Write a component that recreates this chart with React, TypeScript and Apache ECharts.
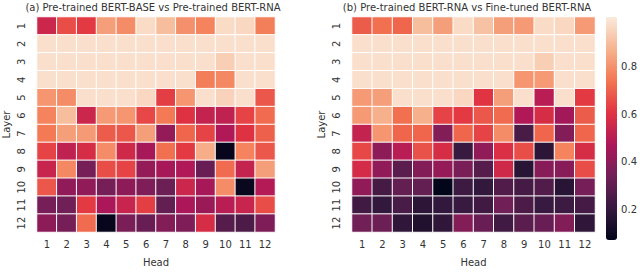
import React, { useEffect, useRef } from "react";
import * as echarts from "echarts";

const heads = ["1", "2", "3", "4", "5", "6", "7", "8", "9", "10", "11", "12"];
const layers = ["1", "2", "3", "4", "5", "6", "7", "8", "9", "10", "11", "12"];

const titleA = "(a) Pre-trained BERT-BASE vs Pre-trained BERT-RNA";
const titleB = "(b) Pre-trained BERT-RNA vs Fine-tuned BERT-RNA";

// rows = layers 1..12, columns = heads 1..12
const simA: number[][] = [
  [0.55, 0.66, 0.62, 0.83, 0.79, 0.97, 0.9, 0.8, 0.77, 0.97, 0.96, 0.76],
  [0.98, 0.98, 0.98, 0.98, 0.98, 0.98, 0.98, 0.98, 0.98, 0.98, 0.98, 0.98],
  [0.98, 0.98, 0.98, 0.98, 0.98, 0.98, 0.98, 0.98, 0.98, 0.94, 0.98, 0.98],
  [0.98, 0.98, 0.98, 0.98, 0.98, 0.98, 0.98, 0.98, 0.76, 0.78, 0.98, 0.98],
  [0.81, 0.79, 0.98, 0.98, 0.98, 0.96, 0.63, 0.81, 0.98, 0.95, 0.98, 0.68],
  [0.77, 0.9, 0.55, 0.82, 0.81, 0.65, 0.75, 0.6, 0.53, 0.52, 0.64, 0.72],
  [0.75, 0.83, 0.82, 0.69, 0.68, 0.83, 0.42, 0.71, 0.64, 0.48, 0.6, 0.7],
  [0.64, 0.52, 0.58, 0.79, 0.56, 0.46, 0.73, 0.62, 0.86, 0.08, 0.77, 0.68],
  [0.54, 0.78, 0.35, 0.66, 0.64, 0.42, 0.46, 0.48, 0.32, 0.72, 0.53, 0.83],
  [0.68, 0.41, 0.41, 0.35, 0.4, 0.37, 0.33, 0.55, 0.46, 0.79, 0.09, 0.49],
  [0.35, 0.34, 0.62, 0.47, 0.54, 0.63, 0.31, 0.47, 0.43, 0.5, 0.54, 0.66],
  [0.4, 0.35, 0.72, 0.08, 0.36, 0.32, 0.38, 0.37, 0.58, 0.28, 0.26, 0.37],
];

const simB: number[][] = [
  [0.69, 0.73, 0.71, 0.9, 0.83, 0.97, 0.91, 0.83, 0.82, 0.97, 0.96, 0.82],
  [0.98, 0.98, 0.98, 0.98, 0.98, 0.98, 0.98, 0.98, 0.98, 0.98, 0.98, 0.98],
  [0.98, 0.98, 0.98, 0.98, 0.98, 0.98, 0.98, 0.98, 0.98, 0.94, 0.98, 0.98],
  [0.98, 0.98, 0.98, 0.98, 0.98, 0.98, 0.98, 0.98, 0.81, 0.82, 0.98, 0.98],
  [0.82, 0.83, 0.98, 0.98, 0.98, 0.96, 0.61, 0.83, 0.98, 0.5, 0.98, 0.62],
  [0.82, 0.87, 0.73, 0.87, 0.64, 0.62, 0.68, 0.72, 0.48, 0.58, 0.45, 0.69],
  [0.53, 0.81, 0.71, 0.71, 0.38, 0.71, 0.64, 0.79, 0.25, 0.71, 0.38, 0.71],
  [0.65, 0.4, 0.5, 0.67, 0.58, 0.21, 0.41, 0.59, 0.66, 0.18, 0.77, 0.58],
  [0.57, 0.41, 0.29, 0.38, 0.42, 0.36, 0.28, 0.56, 0.17, 0.39, 0.39, 0.66],
  [0.41, 0.24, 0.31, 0.31, 0.07, 0.22, 0.2, 0.27, 0.24, 0.27, 0.17, 0.35],
  [0.23, 0.2, 0.25, 0.18, 0.2, 0.21, 0.23, 0.34, 0.26, 0.21, 0.22, 0.24],
  [0.34, 0.33, 0.19, 0.15, 0.19, 0.38, 0.32, 0.23, 0.29, 0.32, 0.38, 0.19],
];

const colorbarTicks = [0.2, 0.4, 0.6, 0.8];
const VMIN = 0.07;
const VMAX = 1.01;

const rocket = ["#03051A", "#35193E", "#701F57", "#AD1759", "#E13342", "#F37651", "#F6B48F", "#FAEBDD"];

const FONT = "DejaVu Sans";
const TXT = "#333333";

function toCells(m: number[][]) {
  const out: number[][] = [];
  m.forEach((row, r) => row.forEach((v, c) => out.push([c, r, v])));
  return out;
}

export default function App() {
  const ref = useRef<HTMLDivElement>(null);
  useEffect(() => {
    if (!ref.current) return;
    const chart = echarts.init(ref.current, undefined, { renderer: "svg" });
    const gridW = 243;
    const gridH = 225;
    const grids = [
      { left: 32, top: 17, width: gridW, height: gridH },
      { left: 352, top: 17, width: gridW, height: gridH },
      { left: 606, top: 17, width: 11, height: 223 },
    ];
    const mkX = (gi: number) => ({
      type: "category",
      gridIndex: gi,
      data: heads,
      name: "Head",
      nameLocation: "middle",
      nameGap: 25,
      nameTextStyle: { fontFamily: FONT, fontSize: 10, color: TXT },
      axisLine: { show: false },
      axisTick: { show: false },
      splitLine: { show: false },
      axisLabel: { fontFamily: FONT, fontSize: 10, color: TXT, margin: 7 },
    });
    const mkY = (gi: number) => ({
      type: "category",
      gridIndex: gi,
      data: layers,
      inverse: true,
      name: "Layer",
      nameLocation: "middle",
      nameGap: 26,
      nameRotate: 90,
      nameTextStyle: { fontFamily: FONT, fontSize: 10, color: TXT },
      axisLine: { show: false },
      axisTick: { show: false },
      splitLine: { show: false },
      axisLabel: { fontFamily: FONT, fontSize: 10, color: TXT, rotate: 90, margin: 11 },
    });
    const heatSeries = (gi: number, m: number[][]) => ({
      type: "heatmap",
      xAxisIndex: gi,
      yAxisIndex: gi,
      data: toCells(m),
      itemStyle: { borderColor: "#ffffff", borderWidth: 1 },
      emphasis: { disabled: true },
    });
    chart.setOption({
      animation: false,
      backgroundColor: "#ffffff",
      title: [
        {
          text: titleA,
          left: 153,
          top: 2,
          padding: 0,
          textAlign: "center",
          textStyle: { fontFamily: FONT, fontSize: 10, fontWeight: "normal", color: TXT },
        },
        {
          text: titleB,
          left: 467,
          top: 2,
          padding: 0,
          textAlign: "center",
          textStyle: { fontFamily: FONT, fontSize: 10, fontWeight: "normal", color: TXT },
        },
      ],
      grid: grids,
      xAxis: [
        mkX(0),
        mkX(1),
        { type: "category", gridIndex: 2, data: [""], show: false },
      ],
      yAxis: [
        mkY(0),
        mkY(1),
        {
          type: "value",
          gridIndex: 2,
          position: "right",
          min: VMIN,
          max: VMAX,
          axisLine: { show: false },
          splitLine: { show: false },
          axisTick: { show: true, length: 4, customValues: colorbarTicks, lineStyle: { color: TXT } },
          axisLabel: {
            customValues: colorbarTicks,
            fontFamily: FONT,
            fontSize: 10,
            color: TXT,
            margin: 9,
            formatter: (v: number) => v.toFixed(1),
          },
        },
      ],
      visualMap: {
        type: "continuous",
        min: VMIN,
        max: VMAX,
        seriesIndex: [0, 1],
        orient: "vertical",
        left: 606,
        top: 17,
        itemWidth: 11,
        itemHeight: 223,
        padding: 0,
        calculable: false,
        hoverLink: false,
        text: ["", ""],
        inRange: { color: rocket },
      },
      series: [
        heatSeries(0, simA),
        heatSeries(1, simB),
        { type: "scatter", xAxisIndex: 2, yAxisIndex: 2, data: [], silent: true },
      ],
    });
    return () => chart.dispose();
  }, []);
  return (
    <div
      ref={ref}
      style={{ position: "fixed", left: 0, top: 0, width: 640, height: 272, background: "#fff" }}
    />
  );
}
